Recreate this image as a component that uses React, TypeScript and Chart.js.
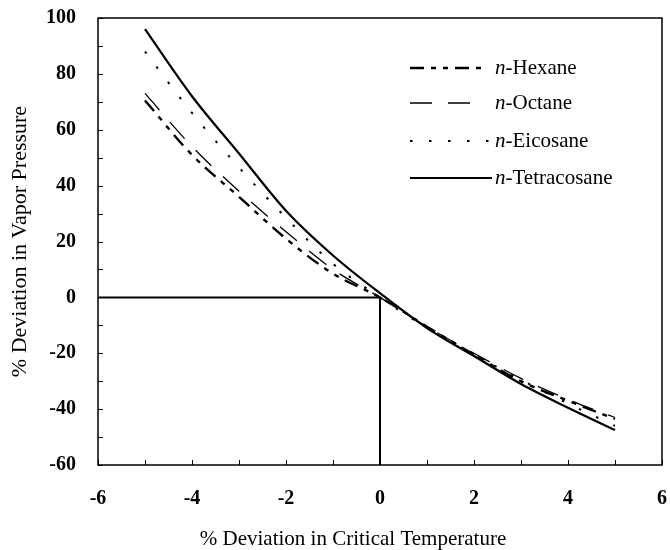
import React, { useEffect, useRef } from "react";
import { Chart, registerables } from "chart.js";

Chart.register(...registerables);

const xValues = [-5, -4, -3, -2, -1, 0, 1, 2, 3, 4, 5];
const hexane = [70.5, 51, 36, 21, 8.5, 0, -10.5, -20.5, -30, -37, -43.5];
const octane = [73, 54, 38, 23.5, 10, 0, -10.5, -20, -29, -36.5, -43];
const eicosane = [88, 66, 46.5, 28.5, 12, 0, -11, -20.5, -29.5, -38, -46];
const tetracosane = [96, 72, 51.5, 31, 15, 1.5, -11, -21, -31, -39.5, -47.5];

const refLineX = [-6, 0, 0];
const refLineY = [0, 0, -60];

const xMinorTicks = [-6, -5, -4, -3, -2, -1, 0, 1, 2, 3, 4, 5, 6];
const yMinorTicks = [-60, -50, -40, -30, -20, -10, 0, 10, 20, 30, 40, 50, 60, 70, 80, 90, 100];

const seriesNames = ["Hexane", "Octane", "Eicosane", "Tetracosane"];
const xTitle = "% Deviation in Critical Temperature";
const yTitle = "% Deviation in Vapor Pressure";

const SERIF = "'Liberation Serif', 'Times New Roman', serif";

const toPoints = (xs: number[], ys: number[]) => xs.map((x, i) => ({ x, y: ys[i] }));

const framePlugin = {
  id: "frameAndLegend",
  afterDatasetsDraw(chart: any) {
    const { ctx, chartArea, scales } = chart;
    const xs = scales.x;
    const ys = scales.y;
    ctx.save();
    // frame
    ctx.strokeStyle = "#000";
    ctx.lineWidth = 1.5;
    ctx.setLineDash([]);
    ctx.strokeRect(chartArea.left, chartArea.top, chartArea.right - chartArea.left, chartArea.bottom - chartArea.top);
    // minor inward ticks
    ctx.lineWidth = 1;
    ctx.beginPath();
    for (const v of xMinorTicks) {
      const px = Math.round(xs.getPixelForValue(v)) + 0.5;
      ctx.moveTo(px, chartArea.bottom);
      ctx.lineTo(px, chartArea.bottom - 5);
    }
    for (const v of yMinorTicks) {
      const py = Math.round(ys.getPixelForValue(v)) + 0.5;
      ctx.moveTo(chartArea.left, py);
      ctx.lineTo(chartArea.left + 5, py);
    }
    ctx.stroke();

    // axis titles
    ctx.fillStyle = "#000";
    ctx.textAlign = "center";
    ctx.textBaseline = "middle";
    ctx.font = `21px ${SERIF}`;
    ctx.fillText(xTitle, 353, 539);
    ctx.save();
    ctx.translate(20, (chartArea.top + chartArea.bottom) / 2);
    ctx.rotate(-Math.PI / 2);
    ctx.font = `22px ${SERIF}`;
    ctx.fillText(yTitle, 0, 0);
    ctx.restore();

    // legend
    const rows = [68, 103, 141, 178];
    const datasets = chart.data.datasets.filter((d: any) => d.inLegend);
    datasets.forEach((d: any, i: number) => {
      const y = rows[i];
      ctx.strokeStyle = "#000";
      ctx.lineWidth = d.borderWidth;
      ctx.setLineDash(d.borderDash || []);
      ctx.lineCap = "butt";
      ctx.beginPath();
      ctx.moveTo(410, y);
      ctx.lineTo(d.legendEnd, y);
      ctx.stroke();
      ctx.setLineDash([]);
      ctx.fillStyle = "#000";
      ctx.textBaseline = "middle";
      ctx.textAlign = "left";
      ctx.font = `italic 21px ${SERIF}`;
      ctx.fillText("n", 495, y);
      const w = ctx.measureText("n").width;
      ctx.font = `21px ${SERIF}`;
      ctx.fillText("-" + d.label, 495 + w, y);
    });
    ctx.restore();
  },
};

export default function App() {
  const canvasRef = useRef<HTMLCanvasElement | null>(null);

  useEffect(() => {
    if (!canvasRef.current) return;
    const chart = new Chart(canvasRef.current, {
      type: "line",
      data: {
        datasets: [
          {
            label: seriesNames[0],
            data: toPoints(xValues, hexane),
            borderColor: "#000",
            borderWidth: 2.4,
            borderDash: [14, 7, 5, 7, 5, 7],
            pointRadius: 0,
            cubicInterpolationMode: "monotone",
            inLegend: true,
            legendEnd: 482,
          } as any,
          {
            label: seriesNames[1],
            data: toPoints(xValues, octane),
            borderColor: "#000",
            borderWidth: 1.3,
            borderDash: [22, 16],
            pointRadius: 0,
            cubicInterpolationMode: "monotone",
            inLegend: true,
            legendEnd: 482,
          } as any,
          {
            label: seriesNames[2],
            data: toPoints(xValues, eicosane),
            borderColor: "#000",
            borderWidth: 2,
            borderDash: [2.5, 16.5],
            pointRadius: 0,
            cubicInterpolationMode: "monotone",
            inLegend: true,
            legendEnd: 492,
          } as any,
          {
            label: seriesNames[3],
            data: toPoints(xValues, tetracosane),
            borderColor: "#000",
            borderWidth: 2.2,
            pointRadius: 0,
            cubicInterpolationMode: "monotone",
            inLegend: true,
            legendEnd: 492,
          } as any,
          {
            label: "reference",
            data: toPoints(refLineX, refLineY),
            borderColor: "#000",
            borderWidth: 2,
            pointRadius: 0,
            tension: 0,
          } as any,
        ],
      },
      options: {
        animation: false,
        responsive: false,
        devicePixelRatio: 1,
        layout: { padding: { top: 18, right: 8, left: 0, bottom: 0 } },
        plugins: { legend: { display: false }, tooltip: { enabled: false } },
        scales: {
          x: {
            type: "linear",
            min: -6,
            max: 6,
            grid: { display: false },
            border: { display: false },
            ticks: {
              stepSize: 2,
              padding: 14,
              color: "#000",
              font: { family: SERIF, size: 20, weight: "bold" },
            },
            afterFit: (scale: any) => {
              scale.height = 85;
              scale.paddingLeft = 0;
              scale.paddingRight = 0;
              scale.paddingTop = 0;
              scale.paddingBottom = 0;
            },
          },
          y: {
            type: "linear",
            min: -60,
            max: 100,
            grid: { display: false },
            border: { display: false },
            ticks: {
              stepSize: 20,
              padding: 14,
              color: "#000",
              font: { family: SERIF, size: 20, weight: "bold" },
            },
            afterFit: (scale: any) => {
              scale.width = 98;
              scale.paddingLeft = 0;
              scale.paddingRight = 0;
              scale.paddingTop = 0;
              scale.paddingBottom = 0;
            },
          },
        },
      },
      plugins: [framePlugin],
    });
    return () => chart.destroy();
  }, []);

  return (
    <div style={{ position: "fixed", left: 0, top: 0, width: 670, height: 550, background: "#fff" }}>
      <canvas ref={canvasRef} width={670} height={550} style={{ display: "block" }} />
    </div>
  );
}
